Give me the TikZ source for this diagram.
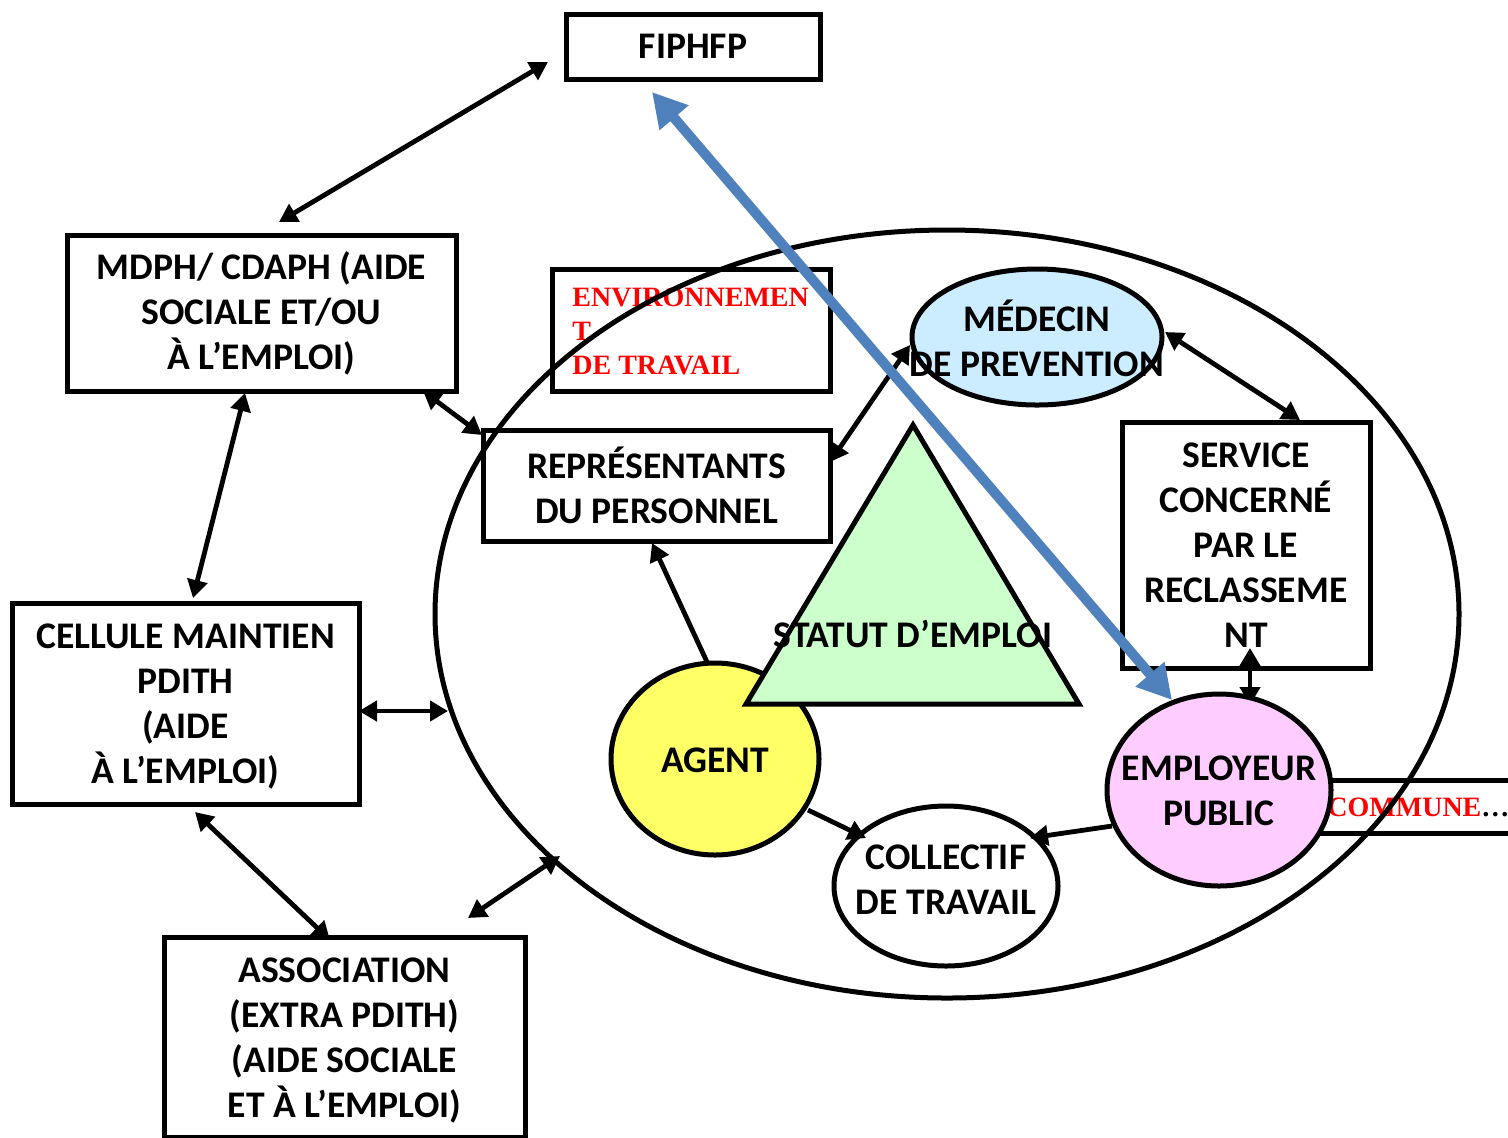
\documentclass[tikz,border=0pt]{standalone}
\usepackage{fontspec}
\setmainfont{Carlito}
\newfontfamily\tnr{Liberation Serif}
\usetikzlibrary{arrows.meta,shapes.geometric}
\definecolor{medblue}{HTML}{CCECFF}
\definecolor{agentyel}{HTML}{FFFF66}
\definecolor{trigreen}{HTML}{CCFFCC}
\definecolor{emppink}{HTML}{FFCCFF}
\definecolor{arrowblue}{HTML}{4F81BD}
\begin{document}
\begin{tikzpicture}[x=0.5pt,y=-0.5pt,
  box/.style={draw,line width=2.5pt,rectangle,inner sep=0pt,font=\fontsize{18.8}{22.5}\selectfont\bfseries,align=center},
  shp/.style={draw,line width=2.5pt,ellipse,inner sep=0pt},
  lbl/.style={font=\fontsize{18.8}{22.5}\selectfont\bfseries,align=center,inner sep=0pt},
  redtxt/.style={font=\fontsize{14}{16.8}\selectfont\tnr\bfseries,text=red,inner sep=0pt,align=left},
  conn/.style={line width=2.4pt,{Triangle[length=9pt,width=10pt]}-{Triangle[length=9pt,width=10pt]}},
  onew/.style={line width=2.4pt,-{Triangle[length=9pt,width=10pt]}},
  bigarrow/.style={line width=5pt,draw=arrowblue,{Triangle[length=17pt,width=18pt]}-{Triangle[length=17pt,width=18pt]}},
]
\useasboundingbox (0,0) rectangle (1508,1137);

% boxes
\node[box,minimum width=127pt,minimum height=32.5pt] (fip) at (693,46.5) {FIPHFP};
\node[box,minimum width=194.5pt,minimum height=78pt] (mdph) at (261.5,313) {MDPH/ CDAPH (AIDE\\SOCIALE ET/OU\\À L’EMPLOI)};
\node[box,minimum width=139pt,minimum height=61pt] (env) at (691,330) {};
\node[redtxt,anchor=north west] (envt) at (572,288) {ENVIRONNEMEN\\T\\DE TRAVAIL};
\node[box,minimum width=173.5pt,minimum height=55.5pt] (repr) at (656.5,485.5) {REPRÉSENTANTS\\DU PERSONNEL};
\node[box,minimum width=124pt,minimum height=123pt] (serv) at (1246,545) {SERVICE\\CONCERNÉ\\PAR LE\\RECLASSEME\\NT};
\node[box,minimum width=173.5pt,minimum height=100.5pt] (cell) at (185.5,703.5) {};
\node[lbl] (cellt) at (185.5,706) {CELLULE MAINTIEN\\PDITH\\(AIDE\\À L’EMPLOI)};
\node[box,minimum width=180.5pt,minimum height=100pt] (assoc) at (344.5,1037) {};
\node[lbl] (assoct) at (344.5,1040) {ASSOCIATION\\(EXTRA PDITH)\\(AIDE SOCIALE\\ET À L’EMPLOI)};
\draw[line width=2.5pt] (1300,780) rectangle (1540,833);
\node[anchor=west,inner sep=0pt,font=\fontsize{14}{16.5}\selectfont\tnr\bfseries] (comm) at (1327,807) {\textcolor{red}{COMMUNE}…};

% big ellipse
\node[shp,minimum width=512pt,minimum height=384pt] (big) at (947,614) {};

% connector end points
\coordinate (fipL) at (548,62);
\coordinate (mdphT) at (279,222);
\coordinate (mdphB) at (245,393);
\coordinate (cellT) at (193,598);
\coordinate (mdphR) at (423,391);
\coordinate (reprL) at (482,435);
\coordinate (cellR) at (359,711);
\coordinate (bigL) at (448,711);
\coordinate (cellB) at (195,812);
\coordinate (assocT) at (330,940);
\coordinate (assocR) at (468,918);
\coordinate (bigBL) at (560,856);
\coordinate (reprR) at (830,462);
\coordinate (medL) at (910,345);
\coordinate (medR) at (1165,332);
\coordinate (servT) at (1300,420);
\coordinate (servB) at (1250,648);
\coordinate (empT) at (1250,705);
\coordinate (agentT) at (707,662);
\coordinate (reprB) at (652,543);
\coordinate (agentR) at (808,810);
\coordinate (collL) at (866,838);
\coordinate (empL) at (1112,826);
\coordinate (collR) at (1030,838);
\coordinate (bluetop) at (652,92);
\coordinate (bluebot) at (1172,700);

\draw[conn] (servB) -- (empT);

% filled shapes
\node[shp,fill=medblue,minimum width=125pt,minimum height=68pt] (med) at (1037,337) {};
\node[lbl] (medt) at (1037,338) {MÉDECIN\\DE PREVENTION};
\node[shp,fill=agentyel,minimum width=104pt,minimum height=96pt] (agent) at (715,759) {};
\node[lbl] (agentt) at (715,760) {AGENT};
\draw[line width=2.5pt,fill=trigreen] (913,425) coordinate (tritop) -- (746,704) -- (1079,704) -- cycle;
\node[lbl] (tri) at (913,634) {STATUT D’EMPLOI};
\node[shp,fill=white,minimum width=112pt,minimum height=80pt] (coll) at (946,886) {};
\node[lbl] (collt) at (946,880) {COLLECTIF\\DE TRAVAIL};
\node[shp,fill=emppink,minimum width=112pt,minimum height=96pt] (emp) at (1219,790) {};
\node[lbl] (empt) at (1219,791) {EMPLOYEUR\\PUBLIC};

\draw[conn] (fipL) -- (mdphT);
\draw[conn] (mdphB) -- (cellT);
\draw[conn] (mdphR) -- (reprL);
\draw[conn] (cellR) -- (bigL);
\draw[conn] (cellB) -- (assocT);
\draw[conn] (assocR) -- (bigBL);
\draw[conn] (reprR) -- (medL);
\draw[conn] (medR) -- (servT);
\draw[onew] (agentT) -- (reprB);
\draw[onew] (agentR) -- (collL);
\draw[onew] (empL) -- (collR);

\draw[bigarrow] (bluetop) -- (bluebot);
\end{tikzpicture}
\end{document}
